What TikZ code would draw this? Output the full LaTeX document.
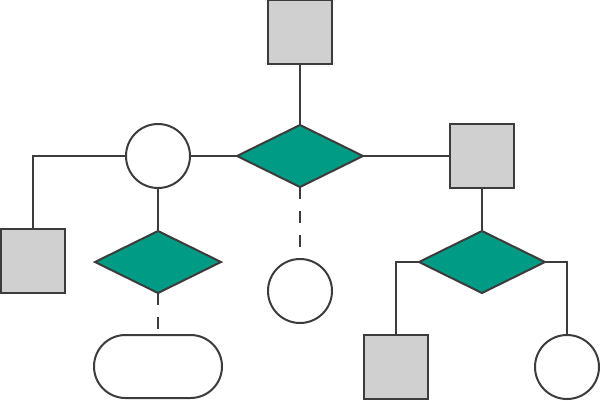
\documentclass[tikz,border=0pt]{standalone}
\usetikzlibrary{shapes.geometric,shapes.misc}
\definecolor{teal1}{RGB}{0,155,132}
\definecolor{stroke1}{RGB}{60,60,60}
\definecolor{gray1}{RGB}{208,208,208}
\begin{document}
\begin{tikzpicture}[x=1pt,y=-1pt,
  every node/.style={draw=stroke1,line width=2pt,inner sep=0pt,outer sep=0pt},
  sq/.style={rectangle,fill=gray1,minimum width=64pt,minimum height=64pt},
  circ/.style={circle,fill=white,minimum size=64pt},
  dia/.style={diamond,fill=teal1,minimum width=126pt,minimum height=62pt},
  pill/.style={rounded rectangle,fill=white,minimum width=128pt,minimum height=63pt},
  link/.style={draw=stroke1,line width=2pt},
  dlink/.style={draw=stroke1,line width=2pt,dash pattern=on 12pt off 12pt}]
\useasboundingbox (0,0) rectangle (600,400);
\node[sq] (top) at (300,32) {};
\node[dia] (dc) at (300,156) {};
\node[circ] (cl) at (158,156) {};
\node[sq] (sr) at (482,156) {};
\node[sq] (sl) at (33,261) {};
\node[dia] (dl) at (158,262) {};
\node[circ] (cm) at (300,291) {};
\node[dia] (dr) at (482,262) {};
\node[sq] (sb) at (396,367) {};
\node[circ] (cr) at (567,367) {};
\node[pill] (pl) at (158,366.5) {};
\path[link] (top.south) -- (dc.north);
\path[link] (cl.east) -- (dc.west);
\path[link] (dc.east) -- (sr.west);
\path[link] (cl.west) -| (sl.north);
\path[link] (cl.south) -- (dl.north);
\path[link] (sr.south) -- (dr.north);
\path[link] (dr.west) -| (sb.north);
\path[link] (dr.east) -| (cr.north);
\path[dlink] (dc.south) -- (cm.north);
\path[dlink] (dl.south) -- (pl.north);
\end{tikzpicture}
\end{document}
